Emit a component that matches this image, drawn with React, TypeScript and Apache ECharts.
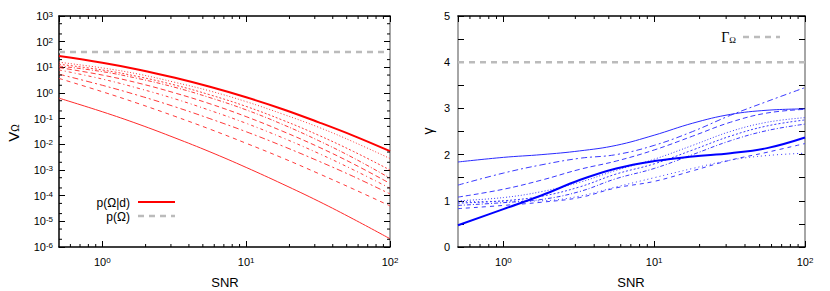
import React, { useEffect, useRef } from "react";
import * as echarts from "echarts";

// ---------- data ----------
const snr = [0.5, 1, 1.8, 3.2, 5.6, 10, 18, 32, 56, 100];

// left panel: V_Omega
const vPosterior = [27.5, 15.1, 8.1, 3.9, 1.74, 0.68, 0.234, 0.072, 0.0214, 0.0054];
const vLowest = [0.63, 0.186, 0.06, 0.0178, 0.0051, 0.00126, 0.00028, 0.00006, 0.000012, 0.0000021];
const vA = [15.8, 9.5, 5.4, 2.6, 1.2, 0.46, 0.15, 0.046, 0.0123, 0.0028];
const vB = [13.2, 7.9, 4.3, 2.04, 0.85, 0.3, 0.087, 0.0224, 0.0052, 0.001];
const vC = [11.2, 6.8, 3.6, 1.66, 0.66, 0.22, 0.059, 0.0138, 0.0029, 0.00048];
const vD = [9.8, 5.0, 2.4, 1.0, 0.38, 0.12, 0.032, 0.0078, 0.0017, 0.0003];
const vE = [7.9, 3.5, 1.5, 0.59, 0.21, 0.066, 0.0178, 0.0044, 0.001, 0.000195];
const vF = [5.4, 2.0, 0.79, 0.29, 0.1, 0.031, 0.0085, 0.0022, 0.00055, 0.000117];
const vG = [3.7, 1.12, 0.38, 0.123, 0.039, 0.011, 0.0029, 0.00072, 0.000178, 0.00004];
const vPrior = 40;

// right panel: gamma
const gPosterior = [0.47, 0.82, 1.12, 1.45, 1.7, 1.86, 1.96, 2.03, 2.14, 2.37];
const gThin = [1.84, 1.94, 2.0, 2.08, 2.2, 2.42, 2.68, 2.87, 2.96, 2.99];
const gA = [1.34, 1.6, 1.78, 1.92, 2.0, 2.2, 2.5, 2.85, 3.15, 3.45];
const gB = [1.08, 1.25, 1.45, 1.68, 1.86, 2.1, 2.4, 2.7, 2.9, 2.98];
const gC = [1.0, 1.07, 1.2, 1.4, 1.66, 1.9, 2.2, 2.5, 2.7, 2.8];
const gD = [0.95, 1.0, 1.1, 1.3, 1.58, 1.8, 2.1, 2.4, 2.62, 2.75];
const gE = [0.9, 0.96, 1.03, 1.2, 1.48, 1.7, 2.0, 2.3, 2.52, 2.66];
const gF = [0.83, 0.9, 0.97, 1.07, 1.28, 1.42, 1.65, 1.88, 2.05, 2.24];
const gG = [0.98, 0.99, 1.0, 1.1, 1.3, 1.5, 1.7, 1.88, 1.98, 2.03];
const gammaPrior = 4;

const X_MIN = 0.5;
const X_MAX = 100;
const V_MIN = 1e-6;
const V_MAX = 1e3;
const G_MIN = 0;
const G_MAX = 5;

const FONT = "'Liberation Sans', Arial, sans-serif";

function minorLog(lo: number, hi: number, mants: number[]) {
  const out: number[] = [];
  for (let e = Math.floor(Math.log10(lo)); e < Math.ceil(Math.log10(hi)); e++) {
    for (const m of mants) {
      const v = m * Math.pow(10, e);
      if (v > lo * 1.0001 && v < hi * 0.9999) out.push(v);
    }
  }
  return out;
}

const pairs = (ys: number[]) => snr.map((x, i) => [x, ys[i]]);

const powLabel = (v: number) => {
  const e = Math.log10(v);
  if (Math.abs(e - Math.round(e)) > 1e-6) return "";
  return "10{sup|" + Math.round(e) + "}";
};

const labelRich = {
  sup: { fontSize: 8, lineHeight: 8, verticalAlign: "top", fontFamily: FONT, color: "#000" },
};

export default function App() {
  const ref = useRef<HTMLDivElement>(null);

  useEffect(() => {
    if (!ref.current) return;
    const chart = echarts.init(ref.current, undefined, { renderer: "svg" });

    const red = "#ff0000";
    const blue = "#0000ff";

    const mk = (name: string, ys: number[], color: string, width: number, type: any, gi: number) => ({
      name,
      type: "line",
      xAxisIndex: gi * 2,
      yAxisIndex: gi * 2,
      data: pairs(ys),
      smooth: 0.4,
      showSymbol: false,
      symbol: "none",
      lineStyle: { color, width, type },
      silent: true,
      z: 3,
    });

    const tickSeries = (gi: number, xs: number[], ys: number[], yLo: number, yHi: number) => {
      const data: number[][] = [];
      xs.forEach((v) => data.push([v, yLo, 0]));
      ys.forEach((v) => data.push([X_MIN, v, 1]));
      return {
        type: "custom",
        xAxisIndex: gi * 2,
        yAxisIndex: gi * 2,
        silent: true,
        clip: false,
        z: 5,
        data,
        renderItem: (_p: any, api: any) => {
          const kind = api.value(2);
          const v = kind === 0 ? api.value(0) : api.value(1);
          const L = 3;
          const st = { stroke: "#000", lineWidth: 1 };
          if (kind === 0) {
            const b = api.coord([v, yLo]);
            const t = api.coord([v, yHi]);
            return {
              type: "group",
              children: [
                { type: "line", shape: { x1: b[0], y1: b[1], x2: b[0], y2: b[1] - L }, style: st },
                { type: "line", shape: { x1: t[0], y1: t[1], x2: t[0], y2: t[1] + L }, style: st },
              ],
            };
          }
          const l = api.coord([X_MIN, v]);
          const r = api.coord([X_MAX, v]);
          return {
            type: "group",
            children: [
              { type: "line", shape: { x1: l[0], y1: l[1], x2: l[0] + L, y2: l[1] }, style: st },
              { type: "line", shape: { x1: r[0], y1: r[1], x2: r[0] - L, y2: r[1] }, style: st },
            ],
          };
        },
      };
    };

    const xAxisBase = (gi: number, pos: "bottom" | "top", color: string) => ({
      type: "log",
      logBase: 10,
      gridIndex: gi,
      position: pos,
      min: X_MIN,
      max: X_MAX,
      axisLine: { show: true, onZero: false, lineStyle: { color, width: 1.5 } },
      axisTick: { show: true, inside: true, length: 6, lineStyle: { color: "#000" } },
      axisLabel: {
        show: pos === "bottom",
        margin: 9,
        fontSize: 11,
        fontFamily: FONT,
        color: "#000",
        formatter: powLabel,
        rich: labelRich,
        showMinLabel: false,
      },
      splitLine: { show: false },
      minorTick: { show: false },
    });

    const xMinor = minorLog(X_MIN, X_MAX, [2, 3, 4, 5, 6, 7, 8, 9]);
    const vMinor = minorLog(V_MIN, V_MAX, [2, 5]);

    const dashRed = "#ff3a3a";
    const dashBlue = "#3a3aff";

    const option: any = {
      animation: false,
      grid: [
        { left: 59, top: 16, width: 331, height: 231 },
        { left: 458, top: 16, width: 347, height: 231 },
      ],
      xAxis: [
        xAxisBase(0, "bottom", "#000"),
        xAxisBase(0, "top", "#000"),
        xAxisBase(1, "bottom", "#000"),
        xAxisBase(1, "top", "#000"),
      ],
      yAxis: [
        {
          type: "log",
          logBase: 10,
          gridIndex: 0,
          position: "left",
          min: V_MIN,
          max: V_MAX,
          splitNumber: 9,
          axisLine: { show: true, lineStyle: { color: "#000", width: 1.5 } },
          axisTick: { show: true, inside: true, length: 6, lineStyle: { color: "#000" } },
          axisLabel: {
            margin: 6,
            fontSize: 11,
            fontFamily: FONT,
            color: "#000",
            formatter: powLabel,
            rich: labelRich,
          },
          splitLine: { show: false },
        },
        {
          type: "log",
          logBase: 10,
          gridIndex: 0,
          position: "right",
          min: V_MIN,
          max: V_MAX,
          splitNumber: 9,
          axisLine: { show: true, lineStyle: { color: "#888", width: 1.5 } },
          axisTick: { show: true, inside: true, length: 6, lineStyle: { color: "#000" } },
          axisLabel: { show: false },
          splitLine: { show: false },
        },
        {
          type: "value",
          gridIndex: 1,
          position: "left",
          min: G_MIN,
          max: G_MAX,
          interval: 1,
          axisLine: { show: true, lineStyle: { color: "#888", width: 1.5 } },
          axisTick: { show: true, inside: true, length: 6, lineStyle: { color: "#000" } },
          minorTick: { show: true, splitNumber: 2, length: 6, lineStyle: { color: "#000" } },
          axisLabel: { margin: 8, fontSize: 11, fontFamily: FONT, color: "#000" },
          splitLine: { show: false },
        },
        {
          type: "value",
          gridIndex: 1,
          position: "right",
          min: G_MIN,
          max: G_MAX,
          interval: 1,
          axisLine: { show: true, lineStyle: { color: "#888", width: 1.5 } },
          axisTick: { show: true, inside: true, length: 6, lineStyle: { color: "#000" } },
          minorTick: { show: true, splitNumber: 2, length: 6, lineStyle: { color: "#000" } },
          axisLabel: { show: false },
          splitLine: { show: false },
        },
      ],
      series: [
        {
          type: "line",
          xAxisIndex: 0,
          yAxisIndex: 0,
          data: [
            [X_MIN, vPrior],
            [X_MAX, vPrior],
          ],
          showSymbol: false,
          symbol: "none",
          lineStyle: { color: "#bbbbbb", width: 2.5, type: [6, 5] },
          silent: true,
        },
        mk("a", vA, dashRed, 1, [1, 2], 0),
        mk("b", vB, dashRed, 1, [2, 2], 0),
        mk("c", vC, dashRed, 1, [4, 2, 1, 2], 0),
        mk("d", vD, dashRed, 1, [5, 3], 0),
        mk("e", vE, dashRed, 1, [3, 3, 1, 3], 0),
        mk("f", vF, dashRed, 1, [6, 3, 2, 3], 0),
        mk("g", vG, dashRed, 1, [4, 4], 0),
        mk("lowest", vLowest, "#ff2a2a", 1, "solid", 0),
        mk("posterior", vPosterior, red, 2, "solid", 0),
        tickSeries(0, xMinor, vMinor, V_MIN, V_MAX),

        {
          type: "line",
          xAxisIndex: 2,
          yAxisIndex: 2,
          data: [
            [X_MIN, gammaPrior],
            [X_MAX, gammaPrior],
          ],
          showSymbol: false,
          symbol: "none",
          lineStyle: { color: "#bbbbbb", width: 2.5, type: [6, 5] },
          silent: true,
        },
        mk("gA", gA, dashBlue, 1, [6, 3, 2, 3], 1),
        mk("gB", gB, dashBlue, 1, [5, 3], 1),
        mk("gC", gC, dashBlue, 1, [1, 2], 1),
        mk("gD", gD, dashBlue, 1, [2, 2], 1),
        mk("gE", gE, dashBlue, 1, [4, 2, 1, 2], 1),
        mk("gF", gF, dashBlue, 1, [4, 4], 1),
        mk("gG", gG, dashBlue, 1, [1, 3], 1),
        mk("gThin", gThin, "#2a2aff", 1, "solid", 1),
        mk("gPosterior", gPosterior, blue, 2, "solid", 1),
        tickSeries(1, xMinor, [], G_MIN, G_MAX),
      ],
      graphic: [
        {
          type: "text",
          x: 225,
          y: 282,
          style: { text: "SNR", font: "13px " + FONT, fill: "#000", align: "center", verticalAlign: "middle" },
        },
        {
          type: "text",
          x: 631,
          y: 282,
          style: { text: "SNR", font: "13px " + FONT, fill: "#000", align: "center", verticalAlign: "middle" },
        },
        {
          type: "text",
          x: 13,
          y: 133,
          rotation: Math.PI / 2,
          style: {
            text: "V{sub|Ω}",
            font: "15px " + FONT,
            fill: "#000",
            align: "center",
            verticalAlign: "middle",
            rich: { sub: { fontSize: 10, lineHeight: 10, verticalAlign: "bottom", fontFamily: FONT, fill: "#000", padding: [6, 0, 0, 0] } },
          },
        },
        {
          type: "text",
          x: 428,
          y: 131,
          rotation: Math.PI / 2,
          style: { text: "γ", font: "14px " + FONT, fill: "#000", align: "center", verticalAlign: "middle" },
        },
        {
          type: "text",
          x: 130,
          y: 203,
          style: { text: "p(Ω|d)", font: "12px " + FONT, fill: "#000", align: "right", verticalAlign: "middle" },
        },
        {
          type: "line",
          shape: { x1: 138, y1: 202, x2: 175, y2: 202 },
          style: { stroke: red, lineWidth: 2 },
        },
        {
          type: "text",
          x: 130,
          y: 217,
          style: { text: "p(Ω)", font: "12px " + FONT, fill: "#000", align: "right", verticalAlign: "middle" },
        },
        {
          type: "line",
          shape: { x1: 138, y1: 216, x2: 175, y2: 216 },
          style: { stroke: "#bbbbbb", lineWidth: 2.5, lineDash: [6, 5] },
        },
        {
          type: "text",
          x: 736,
          y: 37,
          style: {
            text: "Γ{sub|Ω}",
            font: "14px 'Liberation Serif', 'DejaVu Serif', serif",
            fill: "#000",
            align: "right",
            verticalAlign: "middle",
            rich: { sub: { fontSize: 9, lineHeight: 9, verticalAlign: "bottom", fontFamily: "'Liberation Serif', serif", fill: "#000", padding: [5, 0, 0, 0] } },
          },
        },
        {
          type: "line",
          shape: { x1: 743, y1: 37, x2: 780, y2: 37 },
          style: { stroke: "#bbbbbb", lineWidth: 2.5, lineDash: [6, 5] },
        },
      ],
    };

    chart.setOption(option);
    return () => chart.dispose();
  }, []);

  return (
    <div
      ref={ref}
      style={{ position: "fixed", left: 0, top: 0, width: 830, height: 291, background: "#fff" }}
    />
  );
}
